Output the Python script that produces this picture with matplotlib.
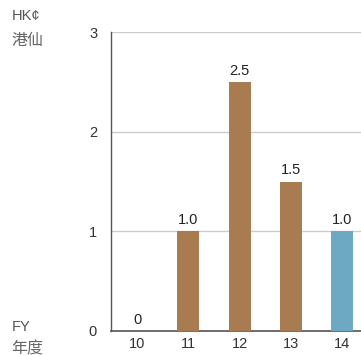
import matplotlib
matplotlib.use("Agg")
import matplotlib.pyplot as plt

years = [10, 11, 12, 13, 14]
values = [0, 1.0, 2.5, 1.5, 1.0]
labels = ["0", "1.0", "2.5", "1.5", "1.0"]
colors = ["#A87C50", "#A87C50", "#A87C50", "#A87C50", "#6EA9C4"]
yticks = [0, 1, 2, 3]

plt.rcParams['font.family'] = ['Liberation Sans', 'Noto Sans CJK SC', 'DejaVu Sans']

fig = plt.figure(figsize=(3.61, 3.56), dpi=100)
W, H = 361, 356
ax = fig.add_axes([111 / W, 1 - 331 / H, (361 - 111) / W, (331 - 32) / H])

ax.bar(years, values, width=0.43, color=colors, zorder=3)
for x, v, t in zip(years, values, labels):
    ax.annotate(t, (x, v), xytext=(0, 3), textcoords="offset points",
                ha="center", va="bottom", fontsize=10.5, color="#222222", zorder=4)

ax.set_xlim(9.49, 14.37)
ax.set_ylim(0, 3)
ax.set_yticks(yticks)
ax.set_xticks(years)
ax.set_xticklabels([str(y) for y in years])
ax.yaxis.grid(True, color="#CCCCCC", linewidth=1, zorder=0)
ax.tick_params(axis="both", length=0, labelsize=10.5, labelcolor="#333333")
ax.tick_params(axis="y", pad=10)
ax.tick_params(axis="x", pad=4)
for s in ["top", "right"]:
    ax.spines[s].set_visible(False)
ax.spines["left"].set_color("#555555")
ax.spines["bottom"].set_color("#555555")
ax.spines["left"].set_linewidth(1)
ax.spines["bottom"].set_linewidth(1.2)

fig.text(12 / W, 1 - 16 / H, "HK¢", fontsize=10.5, color="#555555", va="center", ha="left")
fig.text(11 / W, 1 - 40 / H, "港仙", fontsize=11.5, color="#666666", va="center", ha="left",
         family=['Noto Sans CJK SC', 'DejaVu Sans'])
fig.text(12 / W, 1 - 327 / H, "FY", fontsize=10.5, color="#555555", va="center", ha="left")
fig.text(11 / W, 1 - 349 / H, "年度", fontsize=11.5, color="#666666", va="center", ha="left",
         family=['Noto Sans CJK SC', 'DejaVu Sans'])

fig.savefig("out.png", dpi=100)
